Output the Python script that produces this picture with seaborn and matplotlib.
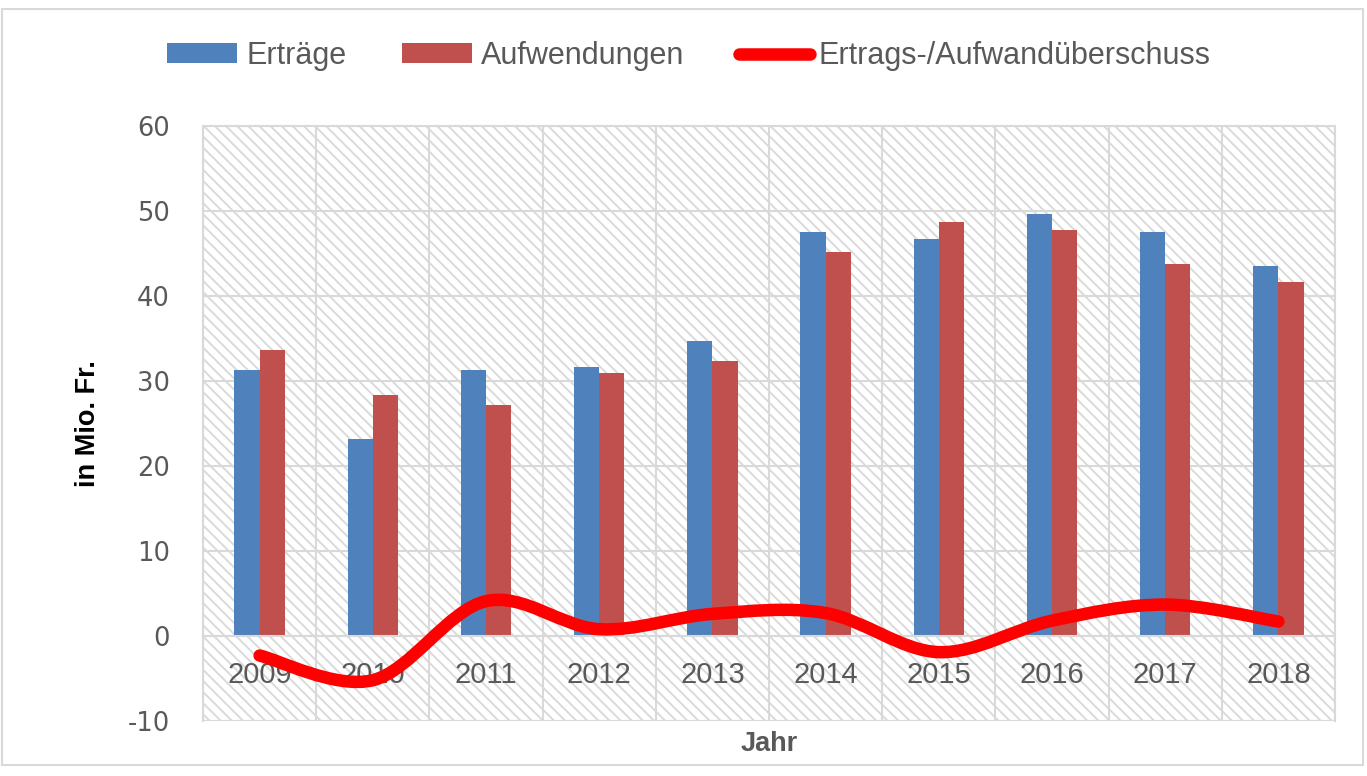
import numpy as np
import pandas as pd
import matplotlib
matplotlib.use("Agg")
import matplotlib.pyplot as plt
import seaborn as sns
from matplotlib.path import Path
from matplotlib.patches import PathPatch, Patch, Rectangle
from matplotlib.lines import Line2D

# ---- data ----
years = ["2009", "2010", "2011", "2012", "2013", "2014", "2015", "2016", "2017", "2018"]
ertraege = [31.3, 23.2, 31.3, 31.6, 34.7, 47.5, 46.7, 49.6, 47.5, 43.5]
aufwendungen = [33.6, 28.4, 27.2, 31.0, 32.4, 45.2, 48.7, 47.8, 43.8, 41.7]
ueberschuss = [-2.3, -5.2, 4.1, 0.8, 2.6, 2.7, -1.9, 1.8, 3.7, 1.7]
series_names = ["Erträge", "Aufwendungen", "Ertrags-/Aufwandüberschuss"]
y_ticks = [-10, 0, 10, 20, 30, 40, 50, 60]

BLUE = "#4F81BD"
RED_BAR = "#C0504D"
RED_LINE = "#FF0000"
GRID = "#D9D9D9"
TXT = "#595959"

df = pd.DataFrame({
    "Jahr": years * 2,
    "Serie": [series_names[0]] * len(years) + [series_names[1]] * len(years),
    "Wert": ertraege + aufwendungen,
})

plt.rcParams["hatch.linewidth"] = 1.4
plt.rcParams["axes.unicode_minus"] = False
W, H = 1367, 776
fig = plt.figure(figsize=(W / 100, H / 100), dpi=100)
fig.patch.set_facecolor("white")
ax = fig.add_axes([203 / W, 1 - 721 / H, (1335 - 203) / W, (721 - 126) / H])

sns.barplot(data=df, x="Jahr", y="Wert", hue="Serie", order=years,
            hue_order=series_names[:2], palette=[BLUE, RED_BAR],
            width=0.444, gap=0, saturation=1, ax=ax, legend=False,
            edgecolor="none", linewidth=0)

# hatched background
ax.set_facecolor("white")
ax.add_patch(Rectangle((0, 0), 1, 1, transform=ax.transAxes, facecolor="white",
                       edgecolor="#DADADA", hatch="\\\\\\", lw=0, zorder=0.1))
ax.set_axisbelow(True)

ax.set_xlim(-0.5, len(years) - 0.5)
ax.set_ylim(-10, 60)
ax.set_yticks(y_ticks)
ax.set_xticks(np.arange(-0.5, len(years), 1), minor=True)
ax.yaxis.grid(True, color=GRID, lw=1.5)
ax.xaxis.grid(True, which="minor", color=GRID, lw=1.5)
ax.xaxis.grid(False, which="major")

for s in ["left", "right", "top"]:
    ax.spines[s].set_color(GRID)
    ax.spines[s].set_linewidth(1.5)
ax.spines["bottom"].set_position(("data", 0))
ax.spines["bottom"].set_color(GRID)
ax.spines["bottom"].set_linewidth(1.5)
ax.axhline(-10, color=GRID, lw=1.5, zorder=0.5)

ax.tick_params(axis="both", which="both", length=0)
ax.tick_params(axis="y", pad=24, labelsize=18.5, labelcolor=TXT)
ax.tick_params(axis="x", pad=18, labelsize=21, labelcolor=TXT)
for lab in ax.get_xticklabels():
    lab.set_fontfamily("Liberation Sans")

ax.set_xlabel("Jahr", fontsize=19.5, fontweight="bold", color=TXT,
              fontfamily="Liberation Sans", labelpad=0)
ax.xaxis.set_label_coords(0.5, -0.016, transform=ax.transAxes)
ax.xaxis.label.set_va("top")
ax.set_ylabel("in Mio. Fr.", fontsize=19.5, fontweight="bold", color="black",
              fontfamily="Liberation Sans")
ax.yaxis.set_label_coords(-0.09, 0.5)

# smoothed line (Excel-like Catmull-Rom bezier)
xs = np.arange(len(years), dtype=float)
ys = np.array(ueberschuss, dtype=float)
pts = np.column_stack([xs, ys])
verts = [tuple(pts[0])]
codes = [Path.MOVETO]
n = len(pts)
for i in range(n - 1):
    p0 = pts[max(i - 1, 0)]
    p1 = pts[i]
    p2 = pts[i + 1]
    p3 = pts[min(i + 2, n - 1)]
    c1 = p1 + (p2 - p0) / 6.0
    c2 = p2 - (p3 - p1) / 6.0
    verts += [tuple(c1), tuple(c2), tuple(p2)]
    codes += [Path.CURVE4] * 3
ax.add_patch(PathPatch(Path(verts, codes), facecolor="none", edgecolor=RED_LINE,
                       lw=9, capstyle="round", joinstyle="round", zorder=5))

# legend
handles = [Patch(facecolor=BLUE, edgecolor="none", label=series_names[0]),
           Patch(facecolor=RED_BAR, edgecolor="none", label=series_names[1]),
           Line2D([0], [0], color=RED_LINE, lw=9, solid_capstyle="round",
                  label=series_names[2])]
leg = fig.legend(handles=handles, loc="center", bbox_to_anchor=(0.504, 1 - 56 / H),
                 ncol=3, frameon=False, handlelength=2.3, handleheight=0.62,
                 handletextpad=0.3, columnspacing=1.8,
                 prop={"family": "Liberation Sans", "size": 22})
for t in leg.get_texts():
    t.set_color(TXT)

# outer frame
fig.add_artist(Rectangle((2 / W, 1 - 765 / H), 1361 / W, 756 / H,
                         transform=fig.transFigure, facecolor="none",
                         edgecolor=GRID, lw=1.5))

fig.savefig("out.png", dpi=100, facecolor="white")
